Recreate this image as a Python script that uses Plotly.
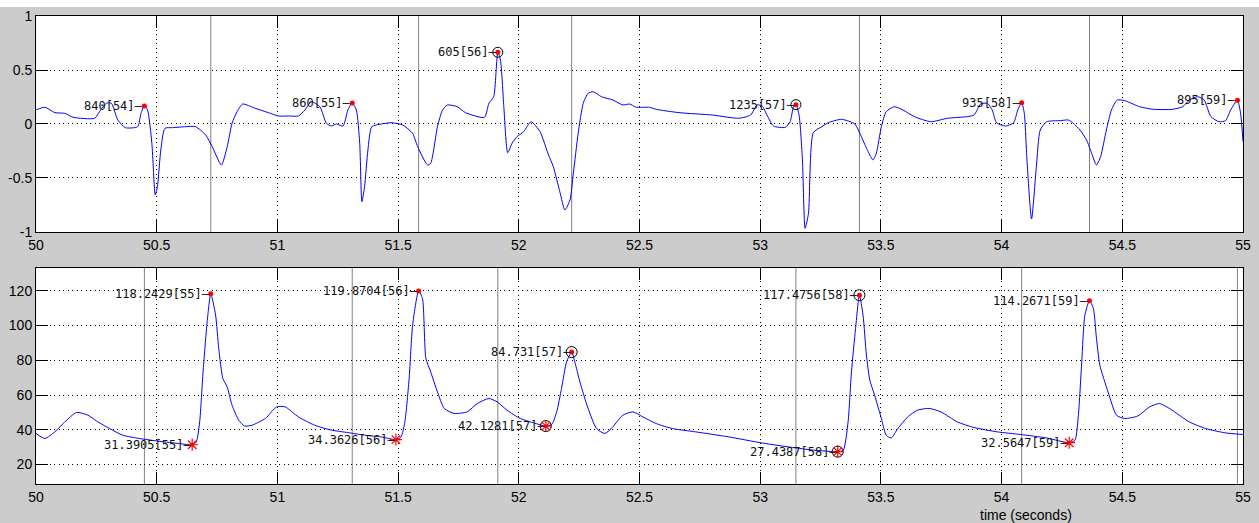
import plotly.graph_objects as go

# ---------------- ECG channel (top) ----------------
ecg_t = [50.000, 50.037, 50.078, 50.119, 50.154, 50.243, 50.263, 50.291, 50.312, 50.339,
         50.370, 50.421, 50.435, 50.449, 50.462, 50.480, 50.494, 50.503, 50.517, 50.534,
         50.565, 50.620, 50.661, 50.703, 50.730, 50.768, 50.792, 50.812, 50.833, 50.856,
         50.908, 50.963, 51.004, 51.046, 51.087, 51.114, 51.141, 51.176, 51.203, 51.224,
         51.244, 51.272, 51.292, 51.310, 51.327, 51.341, 51.350, 51.361, 51.375, 51.391,
         51.430, 51.471, 51.519, 51.560, 51.581, 51.622, 51.635, 51.663, 51.684, 51.704,
         51.745, 51.779, 51.858, 51.876, 51.896, 51.913, 51.924, 51.938, 51.954, 51.972,
         51.992, 52.020, 52.051, 52.088, 52.123, 52.143, 52.170, 52.191, 52.212, 52.226,
         52.246, 52.267, 52.287, 52.308, 52.342, 52.390, 52.431, 52.459, 52.486, 52.541,
         52.569, 52.664, 52.802, 52.911, 52.960, 52.987, 53.008, 53.028, 53.055, 53.104,
         53.124, 53.138, 53.148, 53.161, 53.175, 53.186, 53.200, 53.220, 53.255, 53.282,
         53.337, 53.392, 53.419, 53.447, 53.467, 53.481, 53.502, 53.522, 53.556, 53.591,
         53.639, 53.707, 53.776, 53.858, 53.886, 53.913, 53.941, 53.961, 53.979, 54.016,
         54.050, 54.067, 54.083, 54.094, 54.105, 54.124, 54.144, 54.160, 54.187,
         54.243, 54.277, 54.297, 54.325, 54.352, 54.373, 54.393, 54.410, 54.434, 54.455,
         54.479, 54.510, 54.572, 54.627, 54.709, 54.750, 54.778, 54.812, 54.839, 54.867,
         54.901, 54.928, 54.949, 54.977, 54.990, 55.000]
ecg_v = [0.130, 0.155, 0.105, 0.099, 0.062, 0.053, 0.114, 0.192, 0.192, 0.037,
         -0.034, -0.025, 0.099, 0.167, 0.130, -0.179, -0.657, -0.581, -0.241, -0.040,
         -0.034, -0.025, -0.025, -0.102, -0.210, -0.380, -0.210, 0.006, 0.114, 0.185,
         0.145, 0.105, 0.074, 0.074, 0.074, 0.130, 0.206, 0.160, 0.006, -0.019,
         0.000, -0.019, 0.130, 0.194, 0.130, -0.179, -0.719, -0.581, -0.241, -0.025,
         0.000, 0.012, -0.009, -0.086, -0.210, -0.380, -0.364, -0.025, 0.130, 0.176,
         0.160, 0.105, 0.062, 0.192, 0.253, 0.664, 0.593, 0.160, -0.266, -0.179,
         -0.118, -0.071, 0.021, -0.071, -0.287, -0.395, -0.627, -0.796, -0.704, -0.456,
         -0.086, 0.192, 0.284, 0.299, 0.253, 0.222, 0.176, 0.185, 0.155, 0.155,
         0.136, 0.105, 0.083, 0.053, 0.083, 0.176, 0.167, 0.083, -0.019, -0.031,
         0.021, 0.160, 0.179, 0.083, -0.333, -0.966, -0.827, -0.080, -0.025, 0.012,
         0.043, 0.000, -0.118, -0.256, -0.333, -0.271, -0.025, 0.114, 0.160, 0.130,
         0.068, 0.021, 0.053, 0.068, 0.083, 0.185, 0.192, 0.130, 0.012, -0.019,
         0.012, 0.130, 0.197, 0.099, -0.333, -0.880, -0.395, -0.056, 0.021,
         0.031, 0.037, 0.006, -0.056, -0.148, -0.271, -0.380, -0.303, -0.056, 0.130,
         0.222, 0.216, 0.160, 0.136, 0.136, 0.160, 0.222, 0.253, 0.222, 0.068,
         0.021, 0.031, 0.130, 0.219, 0.099, -0.164]

# detected R peaks: RR interval (ms) and beat number
r_t = [50.449, 51.310, 51.913, 53.148, 54.083, 54.977]
r_v = [0.167, 0.194, 0.664, 0.179, 0.197, 0.219]
r_rr = [840, 860, 605, 1235, 935, 895]
r_beat = [54, 55, 56, 57, 58, 59]
r_flagged = [56, 57]

# ---------------- ABP channel (bottom) ----------------
abp_t = [50.000, 50.037, 50.078, 50.119, 50.168, 50.215, 50.250, 50.305, 50.359, 50.428,
         50.510, 50.593, 50.647, 50.664, 50.678, 50.692, 50.709, 50.724, 50.744, 50.757,
         50.774, 50.792, 50.812, 50.840, 50.864, 50.894, 50.950, 50.997, 51.032, 51.087,
         51.155, 51.224, 51.292, 51.361, 51.430, 51.491, 51.512, 51.528, 51.546, 51.560,
         51.585, 51.601, 51.615, 51.635, 51.663, 51.691, 51.732, 51.786, 51.828, 51.876,
         51.910, 51.951, 52.006, 52.061, 52.112, 52.136, 52.157, 52.177, 52.198, 52.219,
         52.232, 52.253, 52.287, 52.322, 52.356, 52.383, 52.431, 52.473, 52.514, 52.569,
         52.637, 52.733, 52.870, 53.008, 53.145, 53.227, 53.321, 53.344, 53.364, 53.378,
         53.395, 53.411, 53.426, 53.440, 53.454, 53.474, 53.502, 53.522, 53.543, 53.570,
         53.611, 53.652, 53.700, 53.749, 53.817, 53.886, 53.982, 54.078, 54.187, 54.280,
         54.304, 54.318, 54.332, 54.345, 54.364, 54.380, 54.393, 54.407, 54.441, 54.476,
         54.510, 54.565, 54.613, 54.654, 54.695, 54.778, 54.846, 54.928, 55.000]
abp_v = [37.9, 35.0, 38.8, 44.5, 50.0, 48.4, 45.1, 40.7, 36.9, 35.0,
         33.4, 32.1, 31.3905, 33.0, 44.5, 73.3, 102.1, 118.2429, 106.0, 86.8,
         69.5, 64.7, 54.2, 45.5, 42.2, 42.6, 46.5, 53.2, 53.2, 47.4,
         42.6, 39.8, 38.4, 36.9, 35.9, 34.3626, 35.9, 44.5, 70.0, 100.0,
         119.8704, 115.6, 81.1, 73.3, 61.8, 52.3, 49.4, 50.3, 55.1, 58.0,
         56.1, 51.3, 46.5, 44.0, 42.1281, 43.0, 50.3, 63.8, 79.1, 84.731,
         79.1, 67.6, 52.3, 40.7, 37.9, 40.7, 48.4, 50.3, 47.4, 43.6,
         40.7, 38.8, 35.9, 32.4, 29.6, 28.2, 27.4387, 28.2, 44.5, 73.3,
         98.3, 117.4756, 106.0, 83.0, 68.6, 59.9, 46.5, 36.9, 35.3, 40.7,
         47.4, 51.3, 52.3, 50.3, 44.5, 41.3, 38.8, 37.3, 35.3, 32.5647,
         34.0, 48.4, 79.1, 106.0, 114.2671, 109.9, 92.6, 77.2, 61.8, 48.4,
         46.5, 48.0, 53.2, 55.1, 52.3, 44.5, 40.7, 38.2, 37.3]

# systolic peaks and diastolic onsets per beat
sys_t = [50.724, 51.585, 52.219, 53.411, 54.364]
sys_v = [118.2429, 119.8704, 84.731, 117.4756, 114.2671]
dia_t = [50.647, 51.491, 52.112, 53.321, 54.280]
dia_v = [31.3905, 34.3626, 42.1281, 27.4387, 32.5647]
abp_beat = [55, 56, 57, 58, 59]
abp_flagged = [57, 58]

x_ticks = [50, 50.5, 51, 51.5, 52, 52.5, 53, 53.5, 54, 54.5, 55]
x_tick_text = ["50", "50.5", "51", "51.5", "52", "52.5", "53", "53.5", "54", "54.5", "55"]
ecg_ticks = [-1, -0.5, 0, 0.5, 1]
ecg_tick_text = ["-1", "-0.5", "0", "0.5", "1"]
abp_ticks = [20, 40, 60, 80, 100, 120]
abp_tick_text = ["20", "40", "60", "80", "100", "120"]

BLUE = "#0000ff"
RED = "#ff0000"
MARK_LINE = "#808080"
BG = "#cccccc"
LABEL_FONT = dict(family="DejaVu Sans Mono", size=12, color="#111111")
TICK_FONT = dict(family="Liberation Sans, Arial", size=14, color="#000000")
TRACE_LINE = dict(color=BLUE, width=1, shape="spline", smoothing=0.6)

fig = go.Figure()

# signals
fig.add_trace(go.Scatter(x=ecg_t, y=ecg_v, mode="lines", line=TRACE_LINE,
                         xaxis="x", yaxis="y", showlegend=False, hoverinfo="skip"))
fig.add_trace(go.Scatter(x=abp_t, y=abp_v, mode="lines", line=TRACE_LINE,
                         xaxis="x2", yaxis="y2", showlegend=False, hoverinfo="skip"))

# flagged beats get a black ring
ecg_ring_t = [t for t, b in zip(r_t, r_beat) if b in r_flagged]
ecg_ring_v = [v for v, b in zip(r_v, r_beat) if b in r_flagged]
fig.add_trace(go.Scatter(x=ecg_ring_t, y=ecg_ring_v, mode="markers",
                         marker=dict(symbol="circle-open", size=10, color="#000000",
                                     line=dict(width=1, color="#000000")),
                         xaxis="x", yaxis="y", showlegend=False, hoverinfo="skip"))
abp_ring_t = ([t for t, b in zip(sys_t, abp_beat) if b in abp_flagged]
              + [t for t, b in zip(dia_t, abp_beat) if b in abp_flagged])
abp_ring_v = ([v for v, b in zip(sys_v, abp_beat) if b in abp_flagged]
              + [v for v, b in zip(dia_v, abp_beat) if b in abp_flagged])
fig.add_trace(go.Scatter(x=abp_ring_t, y=abp_ring_v, mode="markers",
                         marker=dict(symbol="circle-open", size=11, color="#000000",
                                     line=dict(width=1, color="#000000")),
                         xaxis="x2", yaxis="y2", showlegend=False, hoverinfo="skip"))

# R peaks and systolic peaks: red dots
fig.add_trace(go.Scatter(x=r_t, y=r_v, mode="markers",
                         marker=dict(symbol="circle", size=5, color=RED),
                         xaxis="x", yaxis="y", showlegend=False, hoverinfo="skip"))
fig.add_trace(go.Scatter(x=sys_t, y=sys_v, mode="markers",
                         marker=dict(symbol="circle", size=5, color=RED),
                         xaxis="x2", yaxis="y2", showlegend=False, hoverinfo="skip"))
# diastolic onsets: red asterisks
fig.add_trace(go.Scatter(x=dia_t, y=dia_v, mode="markers",
                         marker=dict(symbol="asterisk-open", size=10, color=RED,
                                     line=dict(width=1.2, color=RED)),
                         xaxis="x2", yaxis="y2", showlegend=False, hoverinfo="skip"))

# cross-channel markers: systolic times on the ECG, R-peak times on the ABP
shapes = []
for t in sys_t:
    shapes.append(dict(type="line", xref="x", yref="y domain", x0=t, x1=t, y0=0, y1=1,
                       line=dict(color=MARK_LINE, width=1), layer="below"))
for t in r_t:
    shapes.append(dict(type="line", xref="x2", yref="y2 domain", x0=t, x1=t, y0=0, y1=1,
                       line=dict(color=MARK_LINE, width=1), layer="below"))
# white band along the top edge of the window
shapes.append(dict(type="rect", xref="paper", yref="paper", x0=-0.05, x1=1.05,
                   y0=1 + 9 / 468, y1=1 + 17 / 468, fillcolor="#ffffff",
                   line=dict(width=0), layer="below"))

annotations = []
for t, v, rr, b in zip(r_t, r_v, r_rr, r_beat):
    annotations.append(dict(x=t, y=v, xref="x", yref="y", text=f"{rr}[{b}]\u2014",
                            showarrow=False, xanchor="right", yanchor="middle",
                            font=LABEL_FONT, xshift=1))
for t, v, b in zip(sys_t, sys_v, abp_beat):
    annotations.append(dict(x=t, y=v, xref="x2", yref="y2", text=f"{v}[{b}]\u2014",
                            showarrow=False, xanchor="right", yanchor="middle",
                            font=LABEL_FONT, xshift=1))
for t, v, b in zip(dia_t, dia_v, abp_beat):
    annotations.append(dict(x=t, y=v, xref="x2", yref="y2", text=f"{v}[{b}]\u2014",
                            showarrow=False, xanchor="right", yanchor="middle",
                            font=LABEL_FONT, xshift=1))
annotations.append(dict(x=0.8206, y=-0.066, xref="paper", yref="paper",
                        text="time (seconds)", showarrow=False, xanchor="center",
                        yanchor="middle", font=TICK_FONT))

axis_common = dict(showline=True, linecolor="#000000", linewidth=1, mirror="ticks",
                   ticks="inside", ticklen=12, tickwidth=1, tickcolor="#000000",
                   showgrid=True, gridcolor="#000000", gridwidth=1, griddash="1px,3.5px",
                   zeroline=False, tickfont=TICK_FONT, fixedrange=True)

fig.update_layout(
    width=1259, height=523,
    margin=dict(l=36, r=8, t=16, b=39),
    paper_bgcolor=BG, plot_bgcolor="#ffffff",
    xaxis=dict(domain=[0, 1], anchor="y", range=[50, 55], tickvals=x_ticks,
               ticktext=x_tick_text, **axis_common),
    yaxis=dict(domain=[0.5385, 1], anchor="x", range=[-1, 1], tickvals=ecg_ticks,
               ticktext=ecg_tick_text, **axis_common),
    xaxis2=dict(domain=[0, 1], anchor="y2", range=[50, 55], tickvals=x_ticks,
                ticktext=x_tick_text, **axis_common),
    yaxis2=dict(domain=[0, 0.4622], anchor="x2", range=[8.8, 133.3], tickvals=abp_ticks,
                ticktext=abp_tick_text, **axis_common),
    shapes=shapes,
    annotations=annotations,
    showlegend=False,
)

fig.write_html("out.html")
